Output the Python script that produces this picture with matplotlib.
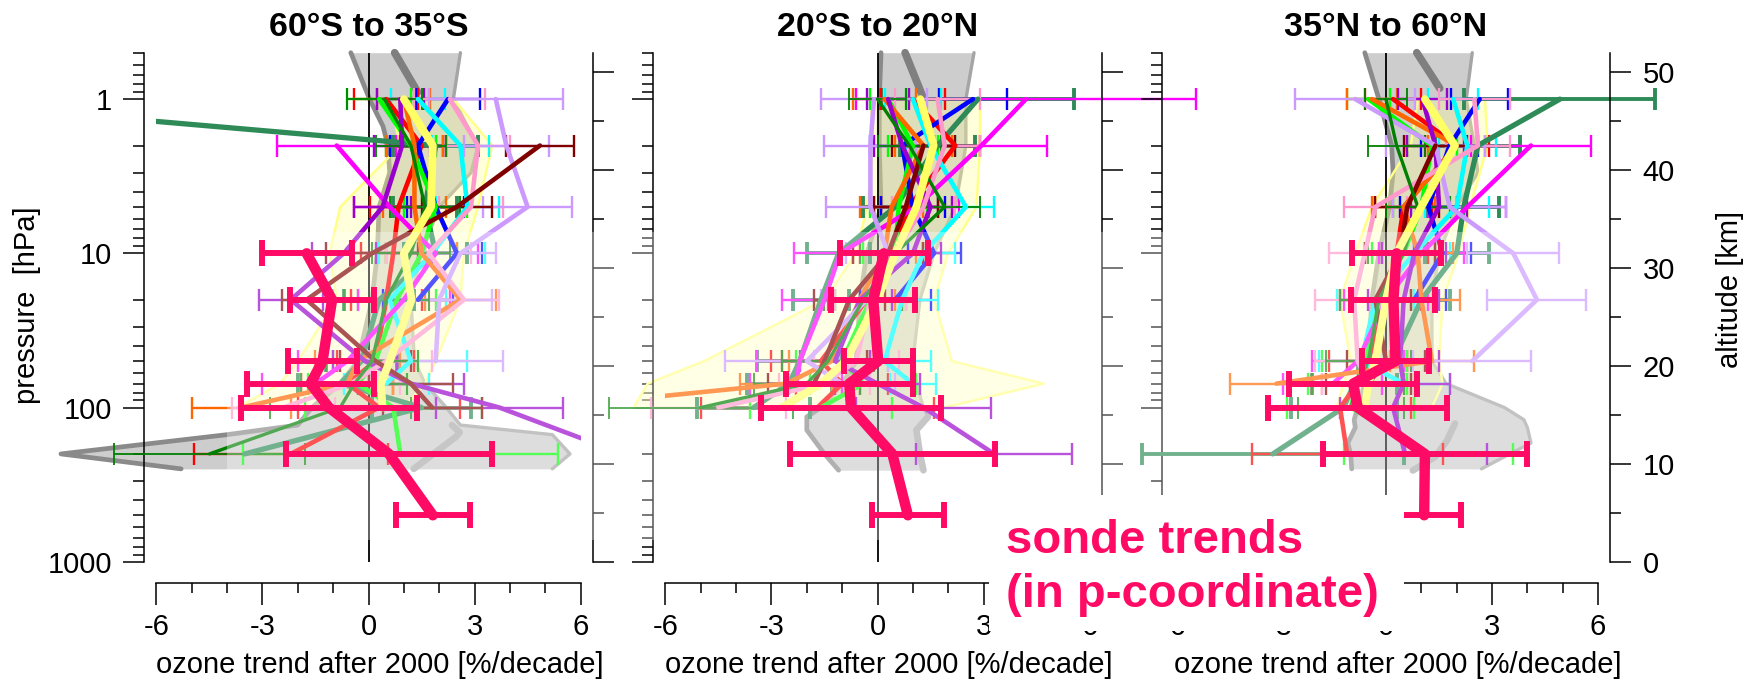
import numpy as np
import matplotlib.pyplot as plt
from matplotlib.patches import Rectangle
from matplotlib.ticker import FixedLocator, FixedFormatter, NullFormatter

plt.rcParams['font.family'] = ['Liberation Sans', 'DejaVu Sans']
plt.rcParams['axes.unicode_minus'] = False

n = np.nan

# pressure levels of the trend profiles [hPa]
LEVELS = [1, 2, 5, 10, 20, 50, 70, 100, 200]
SONDE_P = [10, 20, 50, 70, 100, 200, 500]

COLORS = ['#2E8B57', '#FF0000', '#0000FF', '#00FF00', '#00FFFF', '#FF00FF', '#FF6600',
          '#9900CC', '#FF99CC', '#CC99FF', '#800000', '#008000', '#FFFF66']
WIDTHS = [3.8, 3.3, 3.3, 3.3, 3.3, 3.3, 3.3, 3.3, 3.3, 3.3, 3.3, 2.4, 5.6]
EWIDTHS = [2.8, 1.7, 1.7, 1.7, 1.7, 1.7, 1.7, 1.7, 1.7, 1.7, 1.7, 1.3, 1.7]
SONDE_C = '#FF0A64'

TITLES = ['60°S to 35°S', '20°S to 20°N', '35°N to 60°N']

# ---- 60S-35S ----
south_trend = [
    [-13.3, 1.9, 1.6, 1.9, 0.3, -0.2, -0.8, 1.5, -3.5],
    [0.5, 1.5, 0.85, 0.7, 0.5, 0.2, -0.6, 0.3, -2.2],
    [2.25, 1.4, 1.9, 2.5, 1.4, n, n, n, n],
    [0.3, 1.2, 1.9, 1.5, 0.8, 0.2, -0.3, 0.7, 0.9],
    [1.4, 2.6, 2.8, 1.8, 0.6, 1.2, 0.5, n, n],
    [n, -0.9, 0.6, 1.9, 1.0, -0.6, -1.5, n, n],
    [1.0, 1.3, 1.3, 1.5, 2.6, -0.3, -0.6, -3.6, n],
    [0.9, 0.95, 0.4, -0.7, -2.2, -0.1, 1.2, 3.7, 7.2],
    [2.3, 3.1, 2.9, 1.7, 2.7, 0.5, -0.5, -2.4, n],
    [3.6, 3.9, 4.5, 2.6, 2.0, 1.9, n, n, n],
    [n, 4.85, 2.5, 0.1, -1.75, 0.2, 1.2, 1.8, n],
    [0.45, 1.2, 1.6, 1.2, 0.5, 0.1, -0.4, -0.8, -4.5],
    [1.0, 1.82, 1.77, 1.0, 1.22, 0.6, 0.35, 0.4, n],
]
south_err = [
    [n, 1.2, 0.9, 0.9, 1.0, 1.0, 1.2, 1.4, n],
    [0.9, 0.6, 0.8, 0.9, 1.0, 1.1, 1.3, 2.3, 2.75],
    [0.9, 0.8, 0.8, 0.7, 1.0, n, n, n, n],
    [0.9, 0.7, 0.9, 1.0, 1.1, 1.2, 1.4, 2.5, 4.45],
    [0.75, 0.8, 0.9, 1.5, 1.6, 1.6, 1.2, n, n],
    [n, 1.68, 1.0, 1.2, 1.3, 1.4, 1.5, n, n],
    [0.75, 0.8, 0.9, 1.0, 1.0, 1.2, 1.3, 1.4, n],
    [0.67, 0.8, 0.8, 0.9, 0.9, 0.9, 1.5, 1.8, n],
    [1.0, 0.9, 0.9, 1.2, 1.0, 1.3, 1.4, 1.45, n],
    [1.9, 1.2, 1.25, 1.0, 1.5, 1.9, n, n, n],
    [n, 0.97, 1.0, 1.3, 0.7, 1.0, 1.2, 1.4, n],
    [1.05, 1.0, 1.0, 1.1, 1.2, 1.3, 1.5, 2.0, 2.7],
    [n, n, n, n, n, n, n, n, n],
]
south_sonde = [-1.75, -1.03, -1.3, -1.64, -1.12, 0.58, 1.82]
south_sonde_err = [1.27, 1.18, 0.97, 1.8, 2.5, 2.9, 1.05]
south_band_lo = [0.6, 0.9, -0.8, -1.1, -0.9, -2.0, -2.5, -3.7]
south_band_hi = [2.4, 3.5, 3.1, 2.7, 2.6, 1.9, 1.6, 1.0]
south_gray_p = [0.5, 1, 1.5, 2, 3, 5, 10, 20, 50, 70, 100, 130, 150, 200, 250]
south_gray_lo = [-0.5, 0.03, 0.41, 0.55, 0.6, 0.3, 0.25, 0.1, -0.3, -0.8, -1.6, -2.0, -4.0, -8.7, -5.3]
south_gray_hi = [2.6, 2.4, 2.8, 3.1, 2.9, 2.0, 1.5, 1.2, 1.3, 1.6, 2.2, 2.6, 5.2, 5.7, 5.2]
south_mid_p = [0.5, 0.9]
south_mid = [0.74, 1.39]
south_inner_p = [130, 145, 155, 250]
south_inner = [2.36, 2.58, 2.47, 1.28]

# ---- 20S-20N ----
tropic_trend = [
    [2.84, 1.7, 0.5, -1.1, -1.6, -2.2, -2.5, -3.5, n],
    [1.0, 2.2, 0.9, 0.4, -0.3, -1.6, -1.0, -1.7, n],
    [2.7, 0.7, 1.0, 1.6, 0.5, n, n, n, n],
    [0.3, 1.0, 0.6, 0.5, -0.2, -1.0, -0.4, -1.6, n],
    [1.0, 1.5, 2.5, 1.3, 0.7, 0.2, 1.0, n, n],
    [4.2, 2.94, 1.1, -1.06, -1.5, -2.2, -2.3, n, n],
    [0.2, 1.3, 0.4, 0.2, -0.5, -1.3, -2.58, -9.3, n],
    [0.3, 0.7, 1.5, 1.0, -0.5, -1.2, 0.0, 1.3, 3.3],
    [1.7, 1.9, 1.3, 0.5, -0.2, -0.6, -1.5, -4.5, n],
    [-0.1, -0.2, -0.2, 0.3, -0.3, -2.0, -1.0, n, n],
    [n, 1.3, 0.8, 0.3, -0.8, -1.5, -1.8, n, n],
    [0.0, 0.9, 1.9, 0.5, -0.4, -1.4, -2.0, -5.0, n],
    [1.21, 1.59, 1.1, 0.5, 0.0, -0.9, -1.6, -2.7, n],
]
tropic_err = [
    [2.73, 1.05, 0.92, 0.9, 0.8, 1.2, 1.2, 1.6, n],
    [0.9, 0.7, 0.8, 0.9, 1.0, 1.4, 1.3, 3.3, n],
    [0.95, 0.9, 0.9, 0.75, 1.0, n, n, n, n],
    [0.5, 0.7, 0.8, 0.9, 1.0, 1.3, 1.5, 2.0, n],
    [0.8, 0.7, 0.8, 0.9, 1.0, 1.3, 0.65, n, n],
    [4.8, 1.86, 1.2, 1.3, 1.2, 1.2, 1.3, n, n],
    [0.9, 0.8, 0.9, 0.9, 1.0, 1.2, 1.3, n, n],
    [0.6, 0.8, 0.6, 0.8, 0.9, 1.0, 1.2, 1.9, 2.2],
    [1.2, 1.0, 0.9, 1.0, 1.0, 1.2, 1.3, 1.9, n],
    [1.5, 1.3, 1.25, 1.2, 1.3, 2.3, 1.5, n, n],
    [n, 0.9, 0.9, 1.0, 1.0, 1.2, 1.3, n, n],
    [0.8, 0.9, 1.0, 1.0, 1.1, 1.3, 1.5, 2.6, n],
    [n, n, n, n, n, n, n, n, n],
]
tropic_sonde = [0.18, -0.12, 0.02, -0.8, -0.75, 0.42, 0.86]
tropic_sonde_err = [1.25, 1.19, 0.98, 1.8, 2.55, 2.9, 1.02]
tropic_band_lo = [-0.2, -0.1, -0.3, -0.6, -1.5, -4.9, -6.5, -6.9]
tropic_band_hi = [2.9, 2.9, 2.8, 2.0, 1.6, 2.1, 4.7, 1.9]
tropic_gray_p = [0.5, 1, 2, 5, 10, 20, 50, 70, 100, 115, 140, 200, 255]
tropic_gray_lo = [0.1, 0.05, 0.05, 0.1, -0.3, -0.5, -0.6, -1.0, -1.6, -2.0, -2.0, -1.5, -1.1]
tropic_gray_hi = [2.73, 2.5, 2.5, 2.2, 1.6, 1.2, 1.0, 1.1, 1.3, 1.43, 1.1, 1.2, 1.3]
tropic_mid_p = [0.5, 0.95]
tropic_mid = [0.78, 1.27]
tropic_inner_p = [115, 140, 200, 255]
tropic_inner = [1.43, 1.1, 1.2, 1.3]

# ---- 35N-60N ----
north_trend = [
    [4.92, 2.6, 2.2, 2.0, 1.0, 0.2, -0.9, -1.2, -3.2],
    [0.2, 2.0, 0.5, 0.3, 0.0, -0.5, -0.8, -1.3, -1.1],
    [2.65, 1.8, 1.2, 1.6, 0.8, n, n, n, n],
    [-0.5, 1.3, 1.0, 0.5, -0.3, -0.6, -0.8, -1.0, 1.2],
    [1.9, 2.3, 2.0, 0.8, -0.3, -0.7, 0.5, n, n],
    [n, 4.1, 2.3, 1.0, 0.0, -0.8, -1.5, n, n],
    [-0.4, 2.0, 0.5, 0.9, 1.0, 1.3, -3.1, n, n],
    [1.03, 1.4, 1.5, 0.8, 0.5, 0.4, 0.5, 0.2, 0.54],
    [2.5, 2.6, -0.3, -0.6, -0.9, -0.8, -0.5, n, n],
    [-0.87, 1.4, 1.8, 3.6, 4.27, 2.44, n, n, n],
    [n, 1.4, 0.6, 0.4, -0.3, 0.0, -0.5, n, n],
    [0.0, 0.3, 0.9, 0.5, -0.2, -0.5, -0.8, -1.0, n],
    [1.1, 1.95, 1.0, 0.3, 0.0, -0.3, -0.5, -0.6, n],
]
north_err = [
    [2.7, 1.2, 1.0, 0.9, 0.8, 1.0, 1.2, 1.5, 3.7],
    [0.8, 0.9, 0.8, 0.9, 1.0, 1.1, 1.3, 2.0, 2.7],
    [0.8, 0.8, 0.8, 0.8, 0.9, n, n, n, n],
    [0.6, 0.7, 0.8, 0.9, 1.0, 1.2, 1.4, 1.8, 2.4],
    [0.7, 0.8, 0.9, 1.0, 1.1, 1.2, 1.3, n, n],
    [n, 1.7, 1.1, 1.2, 1.2, 1.3, 1.4, n, n],
    [0.7, 0.8, 0.9, 1.0, 1.1, 1.2, 1.3, n, n],
    [0.7, 0.8, 0.8, 0.9, 1.0, 1.1, 1.3, 1.5, 2.33],
    [1.0, 0.9, 0.9, 1.0, 1.1, 1.2, 1.3, n, n],
    [1.7, 1.4, 1.6, 1.3, 1.4, 1.67, n, n, n],
    [n, 0.9, 0.9, 1.0, 1.0, 1.1, 1.2, n, n],
    [0.6, 0.8, 0.9, 1.0, 1.1, 1.2, 1.3, 1.5, n],
    [n, n, n, n, n, n, n, n, n],
]
north_sonde = [0.3, 0.21, 0.27, -0.93, -0.8, 1.1, 1.08]
north_sonde_err = [1.27, 1.19, 0.95, 1.8, 2.53, 2.88, 1.03]
north_band_lo = [0.9, 0.7, -0.4, -0.87, -1.3, -1.0, -1.2, -1.4]
north_band_hi = [2.8, 2.87, 2.38, 2.06, 1.6, 1.5, 1.6, 1.3]
north_gray_p = [0.5, 1, 2, 3, 5, 10, 20, 50, 70, 100, 120, 135, 170, 200, 250]
north_gray_lo = [-0.6, -0.2, 0.16, 0.2, 0.1, -0.2, -0.4, -0.5, -0.6, -0.8, -0.9, -0.87, -1.08, -1.0, -0.97]
north_gray_hi = [2.44, 2.27, 2.5, 2.6, 2.0, 1.5, 1.3, 1.3, 1.7, 3.35, 3.9, 4.0, 4.1, 3.5, 2.7]
north_mid_p = [0.5, 0.85]
north_mid = [0.87, 1.52]
north_inner_p = [127, 163, 208, 256]
north_inner = [1.95, 1.73, 1.4, 0.76]

panels = [
    dict(trend=south_trend, err=south_err, sonde=south_sonde, sonde_err=south_sonde_err,
         band=(south_band_lo, south_band_hi), gray=(south_gray_p, south_gray_lo, south_gray_hi),
         mid=(south_mid_p, south_mid), inner=(south_inner_p, south_inner)),
    dict(trend=tropic_trend, err=tropic_err, sonde=tropic_sonde, sonde_err=tropic_sonde_err,
         band=(tropic_band_lo, tropic_band_hi), gray=(tropic_gray_p, tropic_gray_lo, tropic_gray_hi),
         mid=(tropic_mid_p, tropic_mid), inner=(tropic_inner_p, tropic_inner)),
    dict(trend=north_trend, err=north_err, sonde=north_sonde, sonde_err=north_sonde_err,
         band=(north_band_lo, north_band_hi), gray=(north_gray_p, north_gray_lo, north_gray_hi),
         mid=(north_mid_p, north_mid), inner=(north_inner_p, north_inner)),
]

# layout in pixels
W, H = 1744, 682
U = 35.35            # pixels per %/decade
HALF = 6.35
TOP, BOT = 52.7, 561.7
ZEROS = [368.5, 877.5, 1386.0]
FS = 21


def fx(px):
    return px / W


def fy(py):
    return 1 - py / H


fig = plt.figure(figsize=(W / 100, H / 100), dpi=100)

p_minor = [0.5, 0.6, 0.7, 0.8, 0.9] + [m * 10 ** k for k in range(3) for m in range(2, 10)]

for i, (x0, pan) in enumerate(zip(ZEROS, panels)):
    rect = [fx(x0 - HALF * U), fy(BOT), 2 * HALF * U / W, (BOT - TOP) / H]
    ax = fig.add_axes(rect, zorder=1)
    ax.set_facecolor('none')
    ax.set_yscale('log')
    ax.set_ylim(1000, 0.5)
    ax.set_xlim(-HALF, HALF)

    # grey envelope
    gp, glo, ghi = pan['gray']
    ax.fill_betweenx(gp, glo, ghi, color='#cdcdcd', lw=0, zorder=1, clip_on=False)
    ax.plot(glo, gp, color='#8a8a8a', lw=3.4, solid_capstyle='round', zorder=1.5, clip_on=False)
    ax.plot(ghi, gp, color='#a5a5a5', lw=2.4, solid_capstyle='round', zorder=1.5, clip_on=False)
    ax.plot(pan['mid'][1], pan['mid'][0], color='#7f7f7f', lw=5.5, solid_capstyle='round',
            zorder=1.5, clip_on=False)
    ax.plot(pan['inner'][1], pan['inner'][0], color='#ababab', lw=4.8, solid_capstyle='round',
            zorder=1.5, clip_on=False)

    # yellow spread of the mean
    blo, bhi = pan['band']
    ax.fill_betweenx(LEVELS[:len(blo)], blo, bhi, color='#FFFF99', alpha=0.35, lw=0,
                     zorder=2, clip_on=False)
    ax.plot(blo, LEVELS[:len(blo)], color='#FFFF88', lw=1.8, zorder=2, clip_on=False)
    ax.plot(bhi, LEVELS[:len(bhi)], color='#FFFF88', lw=1.8, zorder=2, clip_on=False)

    ax.axvline(0, color='black', lw=1.3, zorder=2.5)

    clip = Rectangle((-6, 0.01), 12, 1e5, transform=ax.transData)
    for k, (tr, er) in enumerate(zip(pan['trend'], pan['err'])):
        if not np.all(np.isnan(er)):
            eb = ax.errorbar(tr, LEVELS, xerr=er, fmt='none', ecolor=COLORS[k],
                             elinewidth=EWIDTHS[k], capsize=8, capthick=EWIDTHS[k], zorder=3)
            for a in eb.get_children():
                a.set_clip_on(False)
    for k, tr in enumerate(pan['trend']):
        ln, = ax.plot(tr, LEVELS, color=COLORS[k], lw=WIDTHS[k], solid_capstyle='round',
                      solid_joinstyle='round', zorder=4 if k < 12 else 5)
        ln.set_clip_path(clip)

    # axes: pressure on the left, trend below
    for s in ['top', 'right']:
        ax.spines[s].set_visible(False)
    ax.spines['left'].set_linewidth(1.1)
    ax.spines['bottom'].set_linewidth(1.1)
    ax.spines['bottom'].set_position(('outward', 15.5))
    ax.spines['bottom'].set_bounds(-6, 6)
    ax.set_xticks([-6, -3, 0, 3, 6])
    ax.set_xticklabels(['-6', '-3', '0', '3', '6'])
    ax.set_xticks(range(-6, 7), minor=True)
    ax.tick_params(axis='x', which='major', length=15.6, width=1.1, labelsize=FS, pad=6)
    ax.tick_params(axis='x', which='minor', length=7.2, width=1.1)
    ax.yaxis.set_major_locator(FixedLocator([1, 10, 100, 1000]))
    ax.yaxis.set_minor_locator(FixedLocator(p_minor))
    ax.yaxis.set_minor_formatter(NullFormatter())
    if i == 0:
        ax.yaxis.set_major_formatter(FixedFormatter(['1', '10', '100', '1000']))
    else:
        ax.yaxis.set_major_formatter(NullFormatter())
    ax.tick_params(axis='y', which='major', length=15, width=1.1, labelsize=FS, pad=8)
    ax.tick_params(axis='y', which='minor', length=8, width=1.1)

    # altitude axis on the right
    alt = ax.twinx()
    alt.set_zorder(1)
    alt.set_facecolor('none')
    alt.set_ylim(0, 52)
    for s in ['top', 'left', 'bottom']:
        alt.spines[s].set_visible(False)
    alt.spines['right'].set_linewidth(1.1)
    alt.yaxis.set_major_locator(FixedLocator(range(0, 51, 10)))
    alt.yaxis.set_minor_locator(FixedLocator(range(5, 50, 10)))
    if i != 2:
        alt.yaxis.set_major_formatter(NullFormatter())
    alt.tick_params(axis='y', which='major', length=15, width=1.1, labelsize=FS, pad=8)
    alt.tick_params(axis='y', which='minor', length=8, width=1.1)

    # ozonesonde trends on top of the veil
    top = fig.add_axes(rect, zorder=3)
    top.set_facecolor('none')
    top.set_yscale('log')
    top.set_ylim(1000, 0.5)
    top.set_xlim(-HALF, HALF)
    top.axis('off')
    eb = top.errorbar(pan['sonde'], SONDE_P, xerr=pan['sonde_err'], fmt='none', ecolor=SONDE_C,
                      elinewidth=4.3, capsize=9.5, capthick=4.3)
    for a in eb.get_children():
        a.set_clip_on(False)
    top.plot(pan['sonde'], SONDE_P, color=SONDE_C, lw=7.5, solid_capstyle='round',
             solid_joinstyle='round', clip_on=False)

    fig.text(fx(x0), fy(36), TITLES[i], ha='center', va='baseline', fontsize=24.5,
             fontweight='bold')
    fig.text(fx(x0 - 6 * U), fy(673), 'ozone trend after 2000 [%/decade]', ha='left',
             va='baseline', fontsize=FS)

# pale veil over the lower part of the profiles
fig.add_artist(Rectangle((fx(227), fy(540)), (1600 - 227) / W, (540 - 231.7) / H,
                         transform=fig.transFigure, fc='white', ec='none', alpha=0.33, zorder=2))

fig.text(fx(27), fy(305), 'pressure  [hPa]', rotation=90, ha='center', va='center', fontsize=FS)
fig.text(fx(1730), fy(289), 'altitude [km]', rotation=90, ha='center', va='center', fontsize=FS)

fig.add_artist(Rectangle((fx(989), fy(631)), (1404 - 989) / W, (631 - 495) / H,
                         transform=fig.transFigure, fc='white', ec='none', zorder=4))
fig.text(fx(1006), fy(553), 'sonde trends', color=SONDE_C, fontsize=34, fontweight='bold',
         va='baseline', zorder=5)
fig.text(fx(1006), fy(607), '(in p-coordinate)', color=SONDE_C, fontsize=34, fontweight='bold',
         va='baseline', zorder=5)

fig.savefig('out.png', dpi=100)
